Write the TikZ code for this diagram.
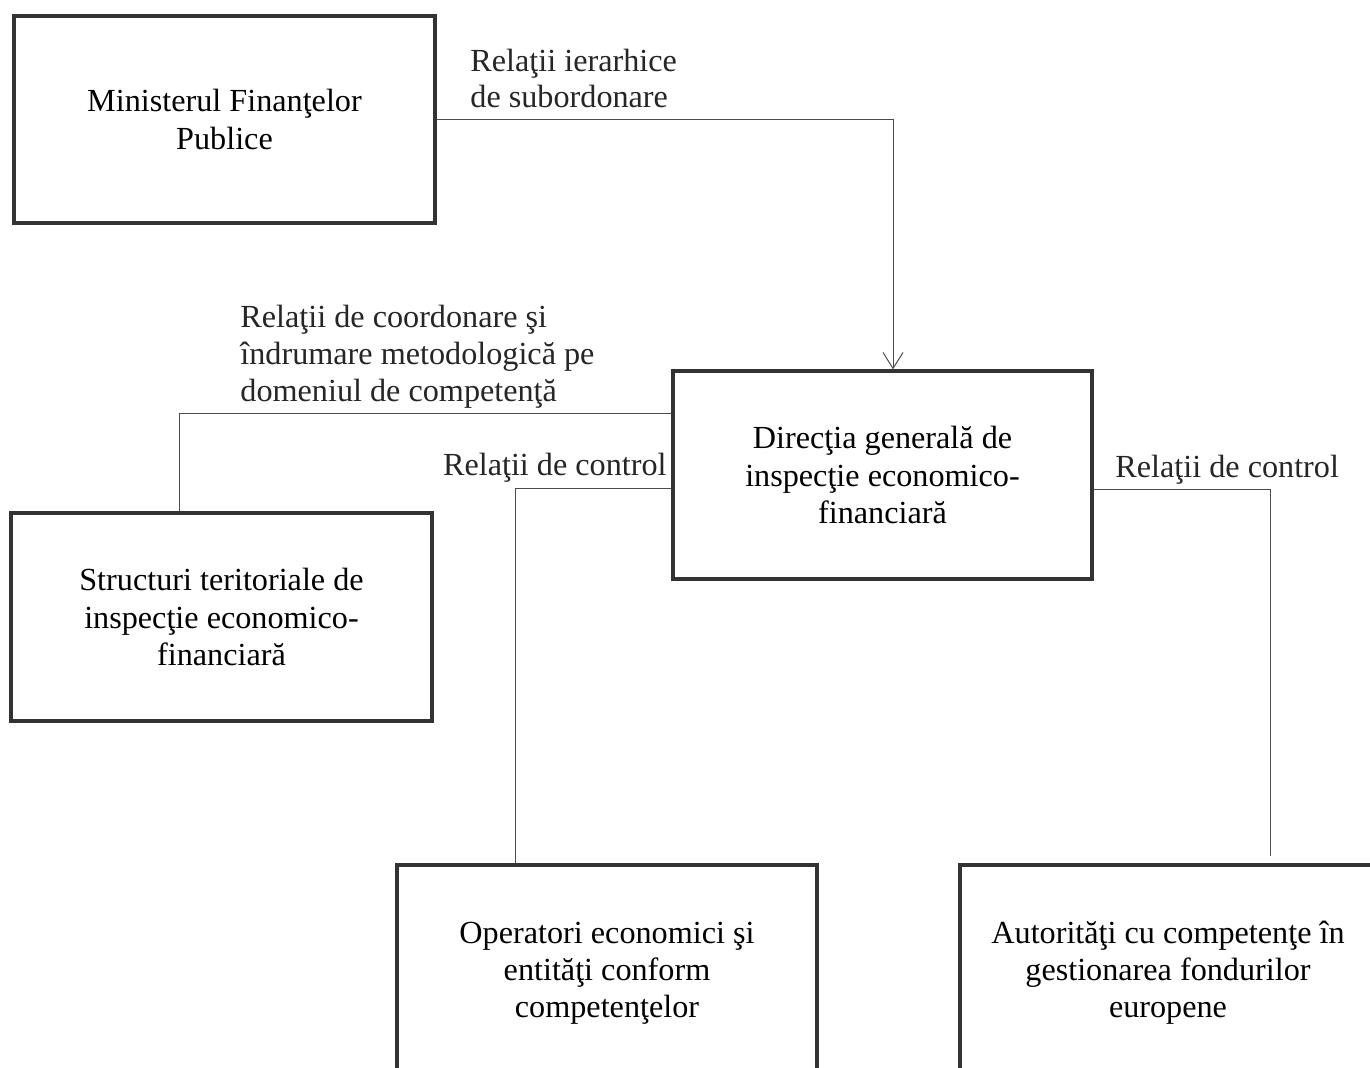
\documentclass[tikz,border=0pt]{standalone}
\usepackage{fontspec}
\setmainfont{Liberation Serif}
\usetikzlibrary{arrows.meta,calc}
\begin{document}
\begin{tikzpicture}[x=0.5pt,y=-0.5pt,
  box/.style={draw=black!80,line width=1.6pt,rectangle,align=center,inner sep=0pt,
    font=\fontsize{16.1pt}{18.6pt}\selectfont},
  lbl/.style={align=left,inner sep=0pt,text=black!85,font=\fontsize{16.1pt}{18.4pt}\selectfont},
  conn/.style={draw=black!70,line width=0.5pt},
  tip/.style={-{Straight Barb[length=8pt,width=10pt,line width=0.5pt]}}]
\clip (0,0) rectangle (1370,1067);
\fill[white] (0,0) rectangle (1370,1067);
\node[box,minimum width=210.5pt,minimum height=103.5pt] (min) at (224.5,119.5) {Ministerul Finanţelor\\Publice};
\node[box,minimum width=209.5pt,minimum height=104pt] (dir) at (882.5,475) {Direcţia generală de\\inspecţie economico-\\financiară};
\node[box,minimum width=210.5pt,minimum height=104pt] (str) at (221.5,617) {Structuri teritoriale de\\inspecţie economico-\\financiară};
\node[box,minimum width=210pt,minimum height=108pt] (op) at (607,973) {Operatori economici şi\\entităţi conform\\competenţelor};
\node[box,minimum width=208pt,minimum height=108pt] (aut) at (1168,973) {Autorităţi cu competenţe în\\gestionarea fondurilor\\europene};
\node[lbl,anchor=west] (l1) at (470,78.5) {Relaţii ierarhice\\de subordonare};
\node[lbl,anchor=west] (l2) at (240,357) {Relaţii de coordonare şi\\îndrumare metodologică pe\\domeniul de competenţă};
\node[lbl,anchor=east] (l3) at (667,468) {Relaţii de control};
\node[lbl,anchor=west] (l4) at (1115,470) {Relaţii de control};
\draw[conn,tip] (min.east) -| ($(dir.north)+(10.5,0)$);
\draw[conn] ($(dir.north west)+(0,44)$) -| ($(str.north)+(-42.5,0)$);
\draw[conn] ($(dir.north west)+(0,119)$) -| ($(op.north)+(-92,0)$);
\draw[conn] ($(dir.north east)+(0,120)$) -| ($(aut.north)+(102,-7)$);
\end{tikzpicture}
\end{document}
